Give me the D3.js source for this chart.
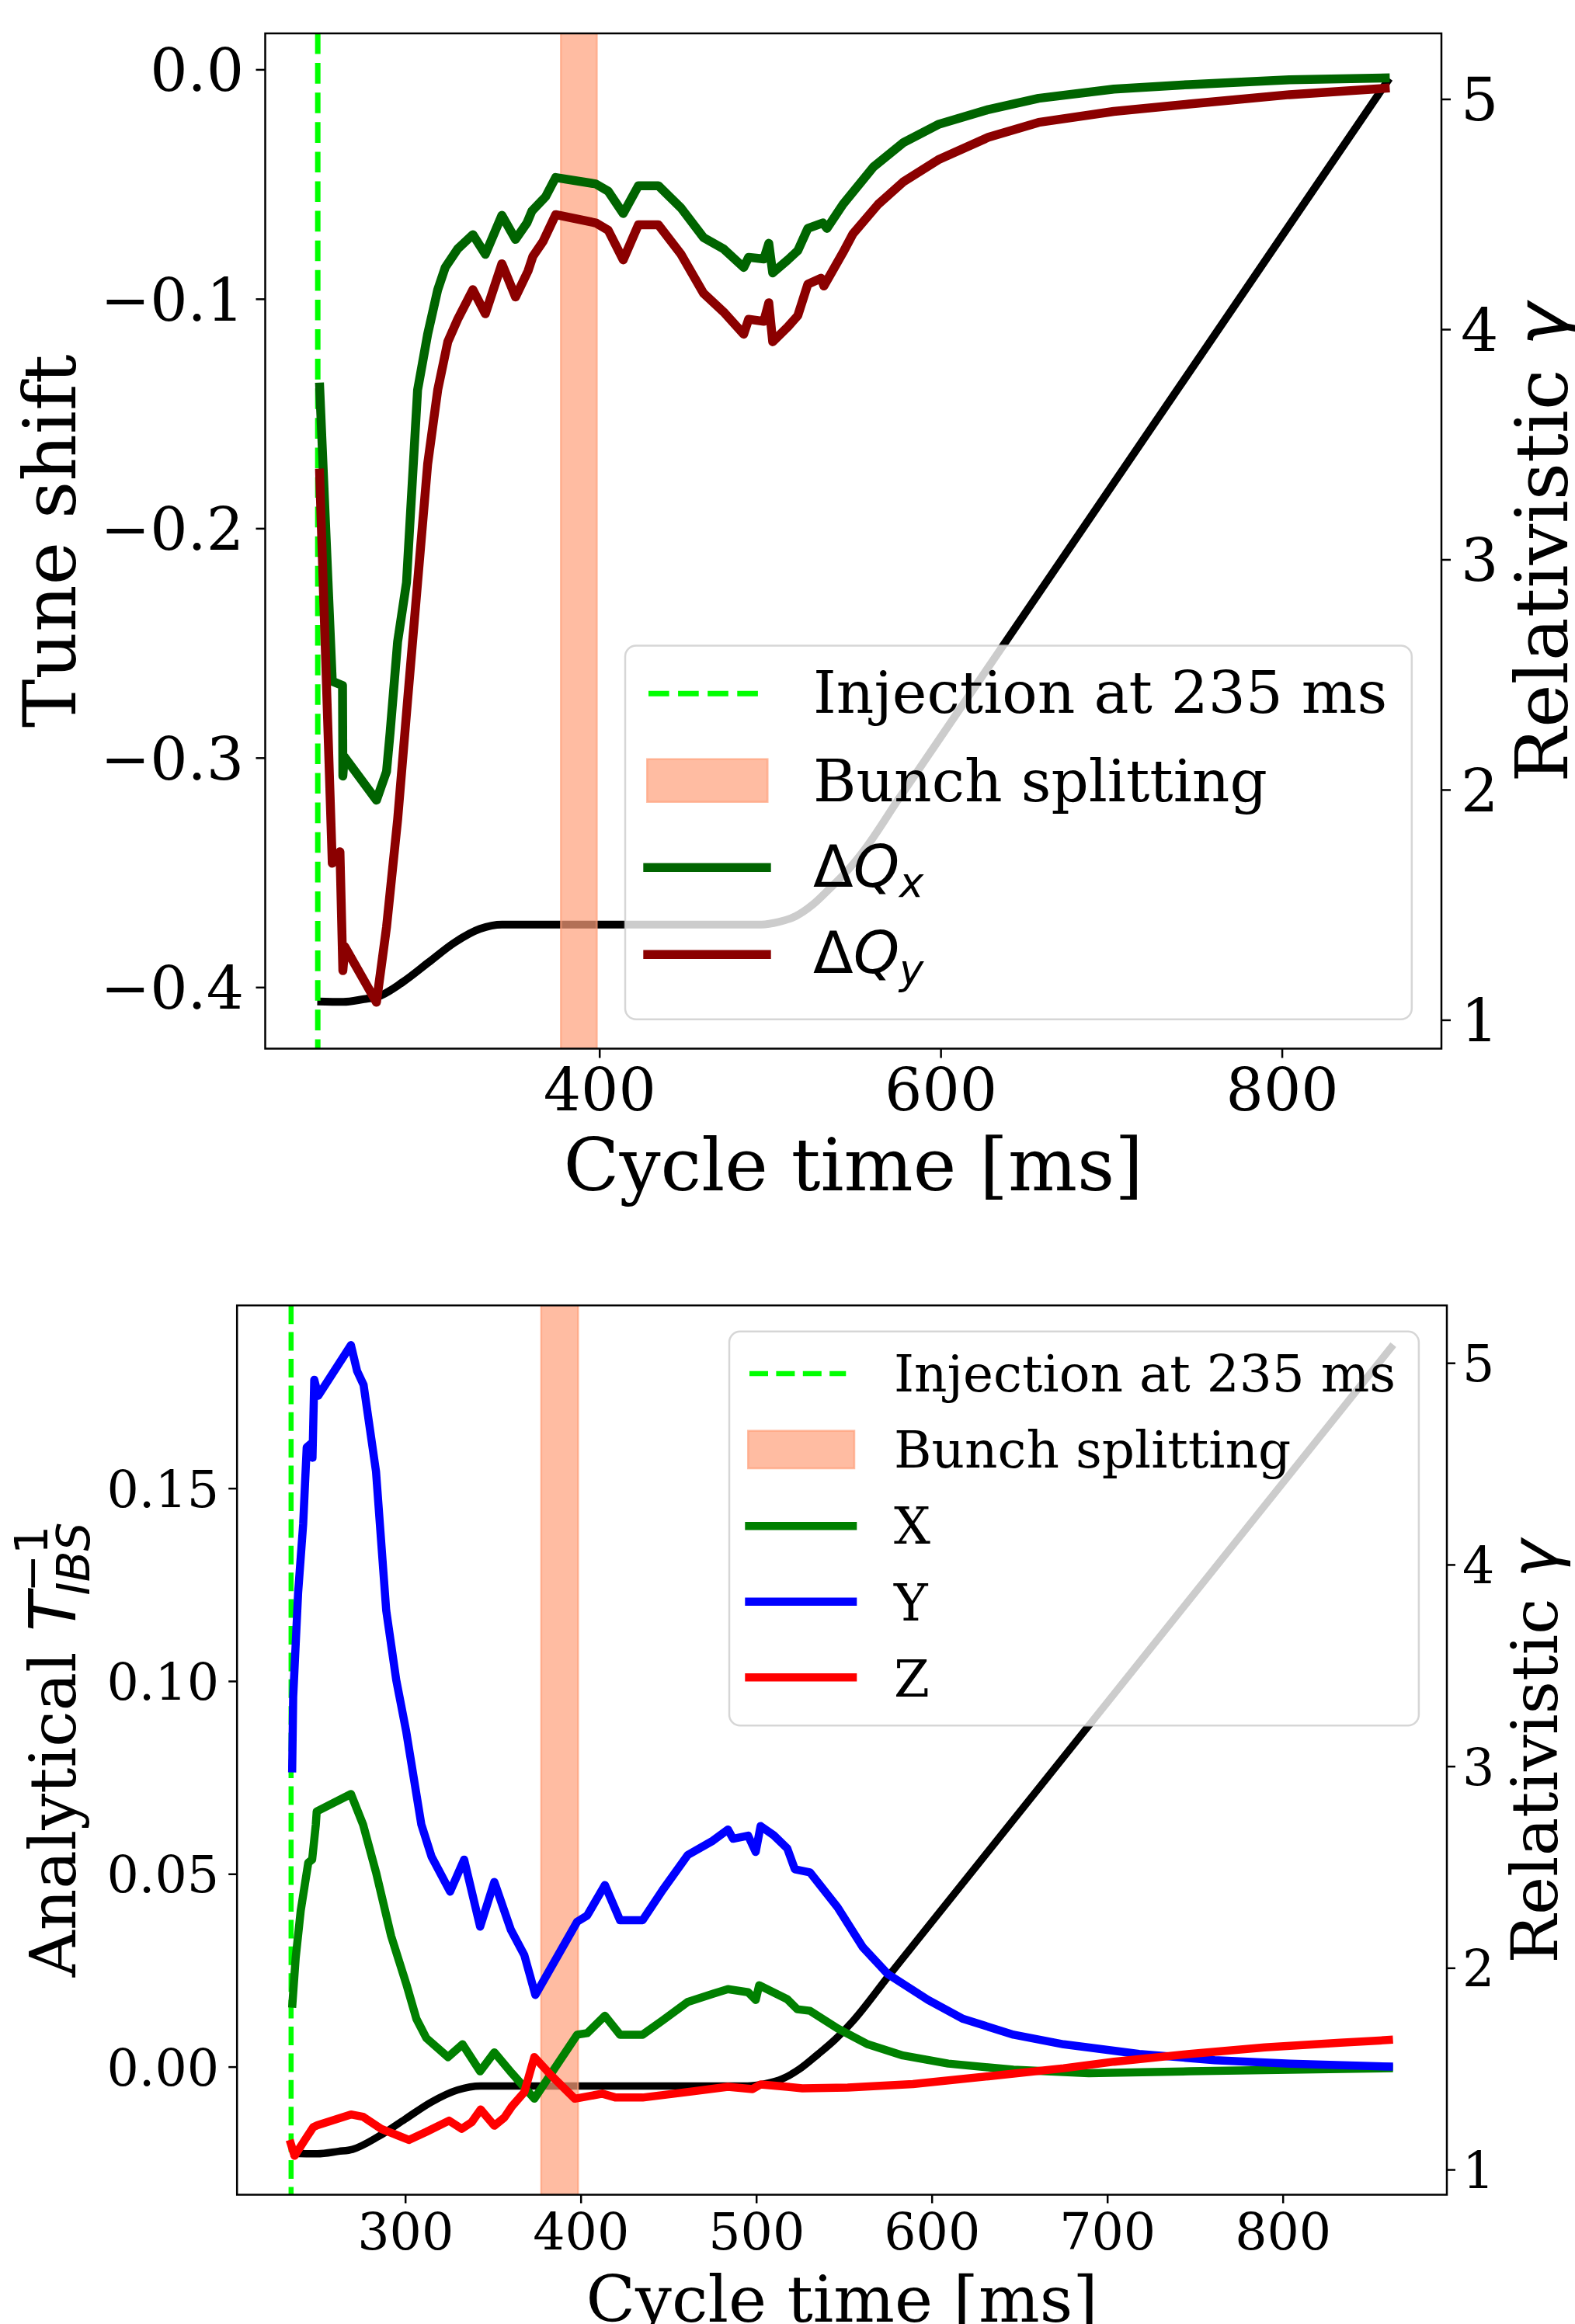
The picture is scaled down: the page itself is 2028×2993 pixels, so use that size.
<!DOCTYPE html>
<html>
<head>
<meta charset="utf-8">
<script src="https://cdn.jsdelivr.net/npm/d3@7"></script>
<style>
  body { margin: 0; background: #fff; }
  svg text { font-family: "DejaVu Serif", serif; fill: #000; }
</style>
</head>
<body>
<div id="chart"></div>
<script>
// values: [cycle time ms, value]

// tune shift (top panel)
let tuneShiftX = [
  [236, -0.1365], [243.5, -0.2667], [249.5, -0.2685], [249.7, -0.308], [250.5, -0.2995],
  [269.4, -0.3185], [275.3, -0.306], [277.4, -0.289], [281.8, -0.2494], [287, -0.2236],
  [293.5, -0.1397], [299.4, -0.1154], [305.3, -0.096], [309.7, -0.0863], [317, -0.0782],
  [325.9, -0.072], [333.2, -0.0806], [342.9, -0.0636], [350.9, -0.0741], [357.6, -0.0669],
  [360.5, -0.0617], [368.5, -0.0555], [374.4, -0.0471], [397.9, -0.0499], [405.2, -0.0531],
  [414, -0.0628], [422.9, -0.0507], [434.6, -0.0507], [447.9, -0.0604], [461.1, -0.0733],
  [472.8, -0.0782], [484.6, -0.0863], [487.5, -0.0819], [496.4, -0.0826], [499.3, -0.0758],
  [501.6, -0.0887], [510.5, -0.083], [516.3, -0.079], [522.2, -0.0693], [531, -0.0669],
  [533.4, -0.0693], [542.8, -0.0588], [560.5, -0.0426], [578, -0.032], [598.6, -0.024],
  [628, -0.0175], [657.4, -0.0126], [701.5, -0.0086], [745.6, -0.0066], [804.4, -0.0045],
  [863.2, -0.0037]
];
let tuneShiftY = [
  [236, -0.174], [243.5, -0.346], [248, -0.341], [249.7, -0.3928], [250.9, -0.3824],
  [269.4, -0.4066], [275.3, -0.3738], [281.8, -0.327], [287.6, -0.2753], [293.5, -0.2236],
  [299.4, -0.172], [305.3, -0.1397], [311.2, -0.1187], [317, -0.1089], [325.9, -0.096],
  [333.2, -0.1065], [342.9, -0.0847], [350.9, -0.0992], [358.2, -0.0879], [361.1, -0.0814],
  [367, -0.075], [374.4, -0.0633], [397.9, -0.0669], [405.2, -0.0701], [414, -0.083],
  [422.9, -0.0677], [434.6, -0.0677], [447.9, -0.0806], [461.1, -0.0976], [472.8, -0.1057],
  [484.6, -0.1154], [487.5, -0.1089], [496.4, -0.1098], [499.3, -0.1017], [501.6, -0.1187],
  [510.5, -0.1122], [516.3, -0.1073], [522.2, -0.0936], [530, -0.091], [531.6, -0.0944],
  [542.8, -0.0798], [548.6, -0.0717], [563.4, -0.0588], [578, -0.0491], [598.6, -0.0394],
  [628, -0.0296], [657.4, -0.0231], [701.5, -0.0183], [745.6, -0.0151], [804.4, -0.011],
  [863.2, -0.0081]
];

// relativistic gamma, same ramp in both panels
let gammaRamp = [
  [234.7, 1.08], [250, 1.078], [262, 1.09], [270, 1.10], [285, 1.165], [300, 1.25],
  [315, 1.335], [330, 1.395], [343, 1.414], [495, 1.414], [505, 1.425], [515, 1.45],
  [525, 1.50], [535, 1.57], [545, 1.645], [555, 1.735], [575, 1.955], [863, 5.09]
];

// analytical IBS growth rates (bottom panel)
let ibsX = [
  [235.6, 0.0153], [237.6, 0.0281], [240.5, 0.0405], [244.8, 0.0529], [247, 0.0537],
  [249.1, 0.0628], [249.6, 0.0662], [269.1, 0.0707], [276, 0.0628], [283.4, 0.0504],
  [292, 0.0339], [300.6, 0.0215], [306.4, 0.0124], [312.1, 0.0074], [324.4, 0.0025],
  [332.7, 0.0058], [342.7, -0.0012], [350.8, 0.0037], [360.8, -0.0017], [373.6, -0.0083],
  [398, 0.0083], [403.7, 0.0087], [413.8, 0.0132], [422.4, 0.0083], [435.3, 0.0083],
  [446.7, 0.012], [461, 0.0168], [475.3, 0.0189], [483.9, 0.0201], [495.4, 0.0193],
  [499.7, 0.0173], [501.7, 0.0211], [517.7, 0.0175], [523.4, 0.0149], [530.6, 0.0145],
  [546.4, 0.0099], [563.6, 0.0058], [583.6, 0.0029], [609.4, 0.0008], [646.6, -0.0008],
  [689.5, -0.0017], [746.9, -0.0012], [804.1, -0.0008], [862.8, -0.0004]
];
let ibsY = [
  [235.6, 0.0763], [236.2, 0.0959], [239, 0.1228], [241.9, 0.1408], [243.9, 0.1606],
  [246.2, 0.1615], [247.2, 0.1579], [248.2, 0.1781], [250.5, 0.174], [269.1, 0.1871],
  [272.6, 0.1804], [276.3, 0.1768], [283.4, 0.1543], [289.2, 0.1183], [294.9, 0.1003],
  [300.6, 0.0869], [309.2, 0.0628], [315, 0.0545], [320.7, 0.0496], [325.6, 0.0454],
  [333.6, 0.0537], [342.7, 0.0363], [350.8, 0.0479], [360.2, 0.0355], [367.9, 0.0289],
  [374.2, 0.0186], [398, 0.0376], [403.7, 0.0392], [413.8, 0.0471], [422.4, 0.038],
  [435.3, 0.038], [446.7, 0.0458], [461, 0.0549], [475.3, 0.0586], [483.9, 0.0615],
  [486.8, 0.0591], [495.4, 0.0599], [499.7, 0.0557], [502.5, 0.0624], [510, 0.060],
  [517.7, 0.0566], [522, 0.0512], [530.6, 0.0504], [546.4, 0.0413], [560.7, 0.031],
  [575, 0.024], [597.9, 0.0173], [617.9, 0.0124], [646.6, 0.0083], [675.2, 0.0058],
  [718.2, 0.0033], [761.2, 0.0017], [804.1, 0.0008], [862.8, 0.0]
];
let ibsZ = [
  [234.2, -0.019], [237, -0.0231], [243.4, -0.0186], [247.6, -0.0157], [250, -0.0152],
  [269.1, -0.0124], [276, -0.013], [286.3, -0.0161], [302.1, -0.019], [312.1, -0.0169],
  [325, -0.014], [332.2, -0.0161], [337.9, -0.0144], [343, -0.0111], [350.8, -0.0153],
  [356.5, -0.0132], [360.8, -0.0103], [367.9, -0.0066], [373.6, 0.0025], [383.7, -0.0025],
  [396.6, -0.0083], [412.3, -0.007], [420, -0.008], [435.3, -0.008], [463.9, -0.0064],
  [483.9, -0.0052], [497.9, -0.0058], [502.5, -0.0046], [517.7, -0.0052], [526.3, -0.0056],
  [552.1, -0.0054], [589.3, -0.0045], [632.3, -0.0025], [675.2, -0.0004], [703.9, 0.0013],
  [746.9, 0.0033], [789.8, 0.005], [832.8, 0.0062], [862.8, 0.007]
];

let injectionTime = 235;
let splittingWindow = [377.5, 398.5];

let timeTicksTop = [400, 600, 800];
let timeTicksBottom = [300, 400, 500, 600, 700, 800];
let tuneTicks = [0, -0.1, -0.2, -0.3, -0.4];
let ibsTicks = [0, 0.05, 0.10, 0.15];
let gammaTicks = [1, 2, 3, 4, 5];

let timeDomain = [204.2, 893.5];
let gammaDomain = [0.875, 5.285];


let svg = d3.select("#chart")
  .append("svg")
    .attr("width", 2028)
    .attr("height", 2993)
    .style("background", "#fff");

// math pieces (matplotlib mathtext uses DejaVu Sans)
function mathTspan(t, txt, italic) {
  return t.append("tspan")
    .style("font-family", "'DejaVu Sans', sans-serif")
    .style("font-style", italic ? "italic" : "normal")
    .text(txt);
}

function drawPanel(p) {
  let x = d3.scaleLinear().domain(timeDomain).range([p.left, p.right]);
  let y = d3.scaleLinear().domain(p.yDomain).range([p.bottom, p.top]);
  let yG = d3.scaleLinear().domain(gammaDomain).range([p.bottom, p.top]);

  svg.append("clipPath").attr("id", "clip-" + p.name)
    .append("rect")
      .attr("x", p.left).attr("y", p.top)
      .attr("width", p.right - p.left).attr("height", p.bottom - p.top);

  let plot = svg.append("g").attr("clip-path", "url(#clip-" + p.name + ")");

  // gamma on the twin axis, lowest layer
  plot.append("path")
    .datum(gammaRamp)
    .attr("fill", "none")
    .attr("stroke", "#000")
    .attr("stroke-width", p.gammaWidth)
    .attr("d", d3.line()
      .x(function(d) { return x(d[0]); })
      .y(function(d) { return yG(d[1]); })
      .curve(d3.curveMonotoneX));

  // bunch splitting window
  plot.append("rect")
    .attr("x", x(splittingWindow[0]))
    .attr("width", x(splittingWindow[1]) - x(splittingWindow[0]))
    .attr("y", p.top - 5)
    .attr("height", p.bottom - p.top + 10)
    .attr("fill", "#ffa07a").attr("fill-opacity", 0.7)
    .attr("stroke", "#ffa07a").attr("stroke-opacity", 0.7).attr("stroke-width", 2.5);

  // injection marker
  plot.append("line")
    .attr("x1", x(injectionTime)).attr("x2", x(injectionTime))
    .attr("y1", p.top).attr("y2", p.bottom)
    .attr("stroke", "#00ff00")
    .attr("stroke-width", p.dashWidth)
    .attr("stroke-dasharray", p.dash);

  let line = d3.line()
    .x(function(d) { return x(d[0]); })
    .y(function(d) { return y(d[1]); });

  p.series.forEach(function(s) {
    plot.append("path")
      .datum(s.values)
      .attr("fill", "none")
      .attr("stroke", s.color)
      .attr("stroke-width", p.lineWidth)
      .attr("stroke-linejoin", "round")
      .attr("d", line);
  });

  // legend
  let lg = p.legend;
  svg.append("rect")
    .attr("x", lg.x0).attr("y", lg.y0)
    .attr("width", lg.x1 - lg.x0).attr("height", lg.y1 - lg.y0)
    .attr("rx", 14)
    .attr("fill", "#fff").attr("fill-opacity", 0.8)
    .attr("stroke", "#cccccc").attr("stroke-opacity", 0.8).attr("stroke-width", 2.5);

  svg.append("line")
    .attr("x1", lg.dash[0]).attr("x2", lg.dash[1])
    .attr("y1", lg.rows[0]).attr("y2", lg.rows[0])
    .attr("stroke", "#00ff00").attr("stroke-width", p.dashWidth)
    .attr("stroke-dasharray", p.dash);

  svg.append("rect")
    .attr("x", lg.patch[0]).attr("y", lg.patch[1])
    .attr("width", lg.patch[2]).attr("height", lg.patch[3])
    .attr("fill", "#ffa07a").attr("fill-opacity", 0.7)
    .attr("stroke", "#ffa07a").attr("stroke-opacity", 0.7).attr("stroke-width", 2.5);

  p.series.forEach(function(s, i) {
    svg.append("line")
      .attr("x1", lg.line[0]).attr("x2", lg.line[1])
      .attr("y1", lg.rows[i + 2]).attr("y2", lg.rows[i + 2])
      .attr("stroke", s.color).attr("stroke-width", p.lineWidth);
  });

  let labels = ["Injection at 235 ms", "Bunch splitting"];
  labels.forEach(function(txt, i) {
    svg.append("text")
      .attr("x", lg.textX).attr("y", lg.base[i])
      .style("font-size", lg.font + "px")
      .text(txt);
  });
  p.series.forEach(function(s, i) {
    let t = svg.append("text")
      .attr("x", lg.textX).attr("y", lg.base[i + 2])
      .style("font-size", lg.font + "px");
    if (s.sub) {
      mathTspan(t, "\u0394", false);
      mathTspan(t, "Q", true);
      mathTspan(t, s.sub, true)
        .style("font-size", (lg.font * 0.7) + "px")
        .attr("dy", lg.font * 0.18);
    } else {
      t.text(s.label);
    }
  });

  // frame
  svg.append("rect")
    .attr("x", p.left).attr("y", p.top)
    .attr("width", p.right - p.left).attr("height", p.bottom - p.top)
    .attr("fill", "none").attr("stroke", "#000").attr("stroke-width", 2.5);

  // axes
  let ax = svg.append("g")
    .attr("transform", "translate(0," + p.bottom + ")")
    .call(d3.axisBottom(x).tickValues(p.timeTicks).tickFormat(d3.format("d"))
      .tickSize(p.tick).tickPadding(p.padX));
  let ay = svg.append("g")
    .attr("transform", "translate(" + p.left + ",0)")
    .call(d3.axisLeft(y).tickValues(p.yTicks).tickFormat(d3.format(p.yFormat))
      .tickSize(p.tick).tickPadding(p.padY));
  let ag = svg.append("g")
    .attr("transform", "translate(" + p.right + ",0)")
    .call(d3.axisRight(yG).tickValues(gammaTicks).tickFormat(d3.format("d"))
      .tickSize(p.tick).tickPadding(p.padG));

  [ax, ay, ag].forEach(function(a) {
    a.select(".domain").remove();
    a.selectAll(".tick line").attr("stroke", "#000").attr("stroke-width", 2.5);
    a.selectAll(".tick text")
      .style("font-family", "'DejaVu Serif', serif")
      .style("font-size", p.tickFont + "px")
      .attr("fill", "#000");
  });
  ay.selectAll(".tick text").attr("dy", "0.36em");
  ag.selectAll(".tick text").attr("dy", "0.36em");

  // axis titles
  svg.append("text")
    .attr("x", (p.left + p.right) / 2).attr("y", p.xLabelY)
    .attr("text-anchor", "middle")
    .style("font-size", p.labelFont + "px")
    .text("Cycle time [ms]");

  let midY = (p.top + p.bottom) / 2;

  let gl = svg.append("g").attr("transform", "translate(" + p.yLabelX + "," + midY + ") rotate(-90)");
  let lt = gl.append("text").style("font-size", p.labelFont + "px");
  p.yLabel(lt);
  let bb = lt.node().getBBox();
  lt.attr("x", -(bb.x + bb.width / 2));

  let gr = svg.append("g").attr("transform", "translate(" + p.gLabelX + "," + midY + ") rotate(-90)");
  let rt = gr.append("text").style("font-size", p.labelFont + "px");
  rt.append("tspan").text("Relativistic ");
  mathTspan(rt, "\u03b3", true);
  let rb = rt.node().getBBox();
  rt.attr("x", -(rb.x + rb.width / 2));
}

// top panel: tune shift
drawPanel({
  name: "top",
  left: 341.5, right: 1856, top: 43, bottom: 1350.5,
  yDomain: [-0.4268, 0.0157],
  yTicks: tuneTicks, yFormat: ".1f",
  timeTicks: timeTicksTop,
  lineWidth: 11.5, gammaWidth: 10, dashWidth: 7, dash: "26.6,11.5",
  tick: 12, padX: 14, padY: 15.5, padG: 13,
  tickFont: 76, labelFont: 94,
  xLabelY: 1533, yLabelX: 97, gLabelX: 2018,
  series: [
    { values: tuneShiftX, color: "#006400", sub: "x" },
    { values: tuneShiftY, color: "#8b0000", sub: "y" }
  ],
  legend: {
    x0: 805, y0: 831.6, x1: 1817.8, y1: 1312.8,
    dash: [835, 976.7], patch: [833.3, 977.7, 155, 55], line: [828.3, 992.7],
    rows: [893.3, 1005, 1117.3, 1229.3],
    textX: 1047, base: [918.3, 1031.7, 1141.7, 1253.3], font: 75.5
  },
  yLabel: function(t) { t.text("Tune shift"); }
});

// bottom panel: IBS growth rates
drawPanel({
  name: "bottom",
  left: 305.2, right: 1863, top: 1681.2, bottom: 2826.5,
  yDomain: [-0.0332, 0.1974],
  yTicks: ibsTicks, yFormat: ".2f",
  timeTicks: timeTicksBottom,
  lineWidth: 10.5, gammaWidth: 9.5, dashWidth: 6.5, dash: "24,10.4",
  tick: 11, padX: 13.5, padY: 12, padG: 9,
  tickFont: 65, labelFont: 83,
  xLabelY: 2990, yLabelX: 97, gLabelX: 2005,
  series: [
    { values: ibsX, color: "#008000", label: "X" },
    { values: ibsY, color: "#0000ff", label: "Y" },
    { values: ibsZ, color: "#ff0000", label: "Z" }
  ],
  legend: {
    x0: 939, y0: 1714.7, x1: 1826.9, y1: 2222.3,
    dash: [965, 1089.3], patch: [963.3, 1842.7, 136.7, 48.3], line: [959.3, 1103.3],
    rows: [1769, 1867, 1965.3, 2062.7, 2160.3],
    textX: 1151, base: [1791.7, 1890, 1988.3, 2086.7, 2185], font: 66
  },
  yLabel: function(t) {
    let fs = 83;
    t.append("tspan").text("Analytical ");
    mathTspan(t, "T", true);
    let sup = mathTspan(t, "\u22121", false)
      .style("font-size", (fs * 0.7) + "px")
      .attr("dy", -fs * 0.43);
    let w = sup.node().getComputedTextLength();
    mathTspan(t, "IBS", true)
      .style("font-size", (fs * 0.7) + "px")
      .attr("dx", -w - 4)
      .attr("dy", fs * 0.43 + fs * 0.22);
  }
});
</script>
</body>
</html>
